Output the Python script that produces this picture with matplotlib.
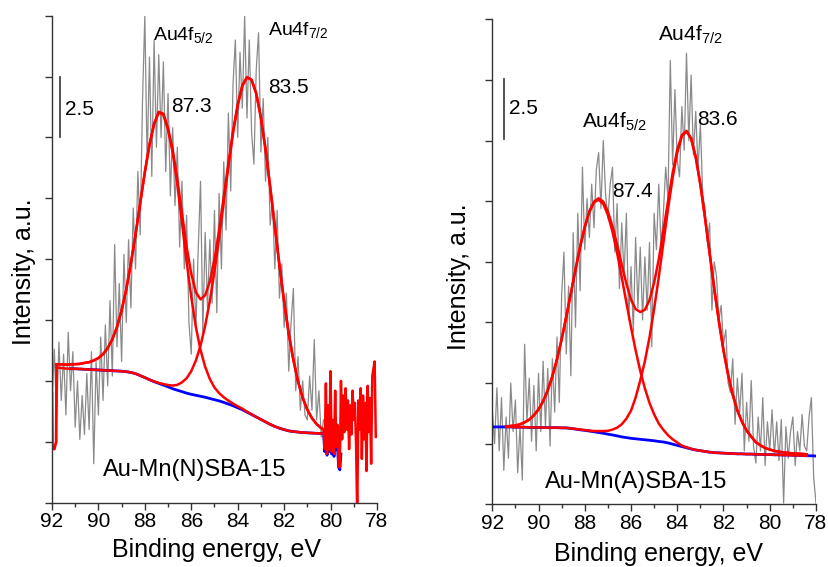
import numpy as np
import matplotlib
matplotlib.use("Agg")
from matplotlib import pyplot as plt
from matplotlib.ticker import MultipleLocator

plt.rcParams['font.family'] = ['Liberation Sans', 'DejaVu Sans']
plt.rcParams['mathtext.fontset'] = 'custom'
plt.rcParams['mathtext.rm'] = 'Liberation Sans'
plt.rcParams['mathtext.default'] = 'regular'

# ---------------- Au-Mn(N)SBA-15 (left) ----------------
# raw spectrum, 0.1 eV steps from 92.0 eV
left_raw = [4.0, 6.3, 3.5, 6.6, 4.2, 6.1, 3.6, 7.0, 4.6, 6.2,
            3.1, 5.0, 2.6, 4.4, 2.8, 5.3, 3.0, 6.2, 1.6, 5.8,
            3.6, 6.8, 4.2, 7.3, 4.8, 8.3, 5.2, 10.6, 6.4, 9.0,
            5.8, 10.2, 7.4, 10.8, 8.0, 12.1, 9.6, 13.6, 11.0, 16.5,
            20.0, 14.0, 18.3, 13.4, 19.0, 14.6, 18.4, 15.0, 18.1, 13.6,
            16.8, 12.6, 15.4, 12.2, 14.6, 10.5, 13.2, 9.6, 11.8, 7.4,
            6.1, 10.0, 7.2, 10.4, 13.2, 7.0, 11.1, 8.0, 10.8, 8.2,
            12.0, 7.8, 12.7, 9.6, 14.0, 11.2, 16.0, 12.8, 17.2, 19.0,
            15.0, 18.5, 16.2, 20.0, 15.8, 19.0, 15.2, 13.9, 17.8, 19.3,
            14.4, 16.6, 13.2, 15.0, 11.4, 12.4, 9.6, 12.0, 8.4, 9.8,
            7.2, 8.6, 5.4, 7.4, 8.8, 4.6, 6.0, 3.8, 5.0, 3.6,
            3.4, 5.2, 3.8, 6.7, 3.4, 4.6, 2.7, 3.4]
left_raw_x = 92.0 - 0.1 * np.arange(len(left_raw))

# fit, 0.2 eV steps from 91.8 eV
left_bg = [5.55, 5.53, 5.51, 5.50, 5.50, 5.49, 5.48, 5.47, 5.46, 5.45,
           5.44, 5.43, 5.42, 5.41, 5.40, 5.38, 5.35, 5.30, 5.22, 5.14,
           5.05, 4.97, 4.90, 4.83, 4.76, 4.68, 4.62, 4.56, 4.50, 4.45,
           4.41, 4.37, 4.33, 4.28, 4.23, 4.18, 4.12, 4.05, 3.98, 3.90,
           3.82, 3.72, 3.62, 3.52, 3.42, 3.32, 3.22, 3.13, 3.06, 3.00,
           2.95, 2.92, 2.90, 2.88, 2.87, 2.86, 2.85, 2.84, 2.84]
left_p52 = [0.13, 0.15, 0.16, 0.18, 0.19, 0.21, 0.26, 0.30, 0.38, 0.49,
            0.66, 0.92, 1.29, 1.80, 2.50, 3.38, 4.48, 5.71, 7.08, 8.43,
            9.65, 10.58, 11.13, 11.10, 10.55, 9.70, 8.45, 6.95, 5.40, 4.00,
            2.80, 1.90, 1.25, 0.80, 0.50, 0.32, 0.21, 0.14, 0.09, 0.06,
            0.04, 0.02, 0.01, 0.0, 0.0, 0.0, 0.0, 0.0, 0.0, 0.0,
            0.0, 0.0, 0.0, 0.0, 0.0, 0.0, 0.0, 0.0, 0.0]
left_p72 = [0.0, 0.0, 0.0, 0.0, 0.0, 0.0, 0.0, 0.0, 0.0, 0.0,
            0.0, 0.0, 0.0, 0.0, 0.0, 0.0, 0.0, 0.0, 0.0, 0.0,
            0.0, 0.01, 0.02, 0.04, 0.07, 0.13, 0.22, 0.38, 0.61, 0.95,
            1.43, 2.08, 2.94, 4.00, 5.26, 6.69, 8.22, 9.75, 11.19, 12.40,
            13.28, 13.74, 13.74, 13.28, 12.40, 11.19, 9.75, 8.22, 6.69, 5.26,
            4.00, 2.94, 2.08, 1.43, 0.95, 0.61, 0.38, 0.22, 0.13]
left_fit_x = 91.8 - 0.2 * np.arange(len(left_bg))

# odd fit pieces at both ends of the left spectrum
left_head_x = [92.0, 91.98, 91.9, 91.82, 91.8]
left_head_y = [4.5, 2.3, 2.2, 2.5, 5.68]
left_tail = [3.0, 2.2, 4.9, 2.0, 4.0, 2.2, 5.4, 2.1, 3.4, 2.0,
             4.6, 2.3, 3.2, 1.5, 1.45, 5.0, 2.6, 4.4, 2.9, 4.7,
             3.0, 4.2, 2.2, 4.0, 2.8, 4.6, 3.4, 4.1, 2.4, -0.5,
             4.2, 3.0, 4.7, 1.8, 4.4, 2.6, 4.1, 1.3, 4.8, 2.9,
             4.3, 1.6, 5.2, 5.5, 5.8, 2.7]
left_tail_x = 80.3 - 0.05 * np.arange(len(left_tail))
left_tail_bg = [2.84, 2.1, 2.6, 1.95, 2.4, 2.1, 2.5, 2.0, 2.3, 1.9,
                2.4, 2.2, 2.3, 1.45, 1.35, 2.0]

# ---------------- Au-Mn(A)SBA-15 (right) ----------------
right_raw = [3.9, 2.5, 4.8, 2.2, 4.4, 1.4, 3.6, 1.9, 5.0, 3.0,
             4.3, 1.3, 3.2, 1.0, 6.6, 3.4, 5.2, 2.6, 4.9, 2.2,
             5.4, 3.0, 5.9, 3.2, 5.6, 2.4, 6.0, 3.8, 6.9, 4.2,
             8.6, 10.4, 6.2, 9.0, 5.3, 11.2, 7.3, 12.0, 8.8, 13.9,
             10.5, 12.6, 11.0, 13.2, 11.4, 13.8, 14.5, 12.2, 15.0, 12.8,
             11.8, 13.2, 13.9, 10.4, 12.4, 8.9, 11.6, 9.4, 12.0, 7.6,
             9.8, 7.1, 11.0, 8.1, 10.6, 7.6, 10.2, 8.0, 10.8, 6.5,
             12.0, 10.5, 13.2, 10.6, 12.0, 13.9, 12.6, 18.3, 14.0, 17.1,
             14.2, 13.5, 16.4, 14.6, 18.6, 15.0, 17.7, 14.4, 16.2, 13.8,
             15.7, 12.8, 12.2, 10.8, 11.6, 8.0, 10.0, 9.4, 7.6, 8.2,
             6.6, 7.2, 5.0, 4.6, 6.0, 3.3, 5.2, 3.8, 5.4, 2.2,
             4.2, 2.6, 5.1, 2.4, 1.7, 3.6, 2.2, 4.4, 1.6, 3.4,
             2.2, 3.9, 2.0, 3.4, 1.8, 3.5, 0.05, 3.2, 1.9, 3.0,
             3.6, 1.6, 3.0, 2.2, 3.7, 2.4, 2.2, 3.6, 4.4, 1.1,
             0.05]
right_raw_x = 92.0 - 0.1 * np.arange(len(right_raw))

# fit, 0.2 eV steps from 92.0 eV
right_bg = [3.19, 3.19, 3.19, 3.19, 3.19, 3.18, 3.18, 3.18, 3.17, 3.17,
            3.17, 3.16, 3.16, 3.16, 3.16, 3.15, 3.15, 3.13, 3.10, 3.07,
            3.05, 3.02, 2.99, 2.96, 2.93, 2.89, 2.86, 2.82, 2.78, 2.75,
            2.72, 2.70, 2.68, 2.66, 2.64, 2.62, 2.59, 2.57, 2.53, 2.48,
            2.43, 2.38, 2.33, 2.28, 2.24, 2.21, 2.18, 2.15, 2.13, 2.12,
            2.11, 2.10, 2.09, 2.08, 2.08, 2.07, 2.07, 2.06, 2.06, 2.05,
            2.05, 2.04, 2.04, 2.03, 2.03, 2.02, 2.02, 2.01, 2.00, 2.00,
            1.99]
right_p52 = [0.0, 0.0, 0.01, 0.02, 0.04, 0.07, 0.12, 0.20, 0.32, 0.50,
             0.74, 1.09, 1.54, 2.12, 2.82, 3.65, 4.58, 5.57, 6.58, 7.54,
             8.38, 9.04, 9.46, 9.60, 9.46, 9.04, 8.38, 7.54, 6.58, 5.57,
             4.58, 3.65, 2.82, 2.12, 1.54, 1.09, 0.74, 0.50, 0.32, 0.20,
             0.12, 0.04, 0.02, 0.01, 0.0, 0.0, 0.0, 0.0, 0.0, 0.0,
             0.0, 0.0, 0.0, 0.0, 0.0, 0.0, 0.0, 0.0, 0.0, 0.0,
             0.0, 0.0, 0.0, 0.0, 0.0, 0.0, 0.0, 0.0, 0.0, 0.0,
             0.0]
right_p72 = [0.0, 0.0, 0.0, 0.0, 0.0, 0.0, 0.0, 0.0, 0.0, 0.0,
             0.0, 0.0, 0.0, 0.0, 0.0, 0.0, 0.0, 0.0, 0.01, 0.01,
             0.01, 0.02, 0.03, 0.06, 0.09, 0.14, 0.22, 0.34, 0.52, 0.78,
             1.14, 1.70, 2.43, 3.24, 4.24, 5.43, 6.77, 8.21, 9.64, 10.98,
             12.07, 12.80, 13.05, 12.80, 12.07, 10.98, 9.64, 8.21, 6.77, 5.43,
             4.24, 3.24, 2.43, 1.79, 1.32, 0.97, 0.72, 0.50, 0.37, 0.27,
             0.21, 0.16, 0.13, 0.11, 0.09, 0.08, 0.07, 0.07, 0.06, 0.06,
             0.05]
right_fit_x = 92.0 - 0.2 * np.arange(len(right_bg))

x_ticks = [92, 90, 88, 86, 84, 82, 80, 78]

fig = plt.figure(figsize=(8.29, 5.67), dpi=100)
ax1 = fig.add_axes([0.0627, 0.1134, 0.392, 0.859])
ax2 = fig.add_axes([0.5938, 0.1106, 0.3905, 0.8554])

gray = '#8a8a8a'


def style(ax):
    ax.set_xlim(92, 78)
    ax.set_ylim(0, 20)
    ax.set_xticks(x_ticks)
    ax.xaxis.set_minor_locator(MultipleLocator(1))
    ax.yaxis.set_major_locator(MultipleLocator(2.5))
    ax.spines['top'].set_visible(False)
    ax.spines['right'].set_visible(False)
    for s in ['left', 'bottom']:
        ax.spines[s].set_color('#333333')
        ax.spines[s].set_linewidth(1.0)
    ax.tick_params(axis='both', which='major', direction='out', length=5,
                   width=1, color='#333333', labelsize=15, pad=2)
    ax.tick_params(axis='both', which='minor', direction='out', length=3,
                   width=1, color='#333333')
    ax.tick_params(axis='y', labelleft=False)
    ax.set_xlabel('Binding energy, eV', fontsize=18)
    ax.set_ylabel('Intensity, a.u.', fontsize=18)


# left panel
bgL = np.array(left_bg)
ax1.plot(left_raw_x, left_raw, color=gray, lw=0.9)
ax1.plot(left_fit_x[3:], bgL[3:], color='blue', lw=2)
ax1.plot(left_tail_x[:len(left_tail_bg)], left_tail_bg, color='blue', lw=2)
ax1.plot(left_fit_x, bgL + np.array(left_p52), color='red', lw=1.8)
ax1.plot(left_fit_x, bgL + np.array(left_p72), color='red', lw=1.8)
ax1.plot(left_fit_x, bgL + np.array(left_p52) + np.array(left_p72), color='red', lw=1.8)
ax1.plot(left_head_x, left_head_y, color='red', lw=2)
ax1.plot(left_tail_x, left_tail, color='red', lw=1.8)
style(ax1)
ax1.xaxis.set_label_coords(0.507, -0.073)
ax1.yaxis.set_label_coords(-0.05, 0.474)
ax1.plot([91.66, 91.66], [15.0, 17.5], color='#333333', lw=1.2)
ax1.text(91.44, 15.93, '2.5', fontsize=15, va='baseline')
ax1.text(87.66, 19.0, 'Au4f$_{5/2}$', fontsize=14, va='baseline')
ax1.text(82.68, 19.2, 'Au4f$_{7/2}$', fontsize=14, va='baseline')
ax1.text(86.87, 16.06, '87.3', fontsize=15, va='baseline')
ax1.text(82.68, 16.84, '83.5', fontsize=15, va='baseline')
ax1.text(89.79, 1.11, 'Au-Mn(N)SBA-15', fontsize=17, va='baseline')

# right panel
bgR = np.array(right_bg)
s = slice(3, 69)
ax2.plot(right_raw_x, right_raw, color=gray, lw=0.9)
ax2.plot(right_fit_x, bgR, color='blue', lw=2)
ax2.plot(right_fit_x[s], (bgR + np.array(right_p52))[s], color='red', lw=1.8)
ax2.plot(right_fit_x[s], (bgR + np.array(right_p72))[s], color='red', lw=1.8)
ax2.plot(right_fit_x[s], (bgR + np.array(right_p52) + np.array(right_p72))[s], color='red', lw=1.8)
style(ax2)
ax2.xaxis.set_label_coords(0.515, -0.077)
ax2.yaxis.set_label_coords(-0.065, 0.47)
ax2.plot([91.49, 91.49], [15.06, 17.55], color='#333333', lw=1.2)
ax2.text(91.26, 16.08, '2.5', fontsize=15, va='baseline')
ax2.text(84.83, 19.1, 'Au4f$_{7/2}$', fontsize=15, va='baseline')
ax2.text(88.14, 15.53, 'Au4f$_{5/2}$', fontsize=15, va='baseline')
ax2.text(83.12, 15.64, '83.6', fontsize=15, va='baseline')
ax2.text(86.8, 12.68, '87.4', fontsize=15, va='baseline')
ax2.text(89.72, 0.66, 'Au-Mn(A)SBA-15', fontsize=17, va='baseline')

fig.savefig('out.png', dpi=100)
